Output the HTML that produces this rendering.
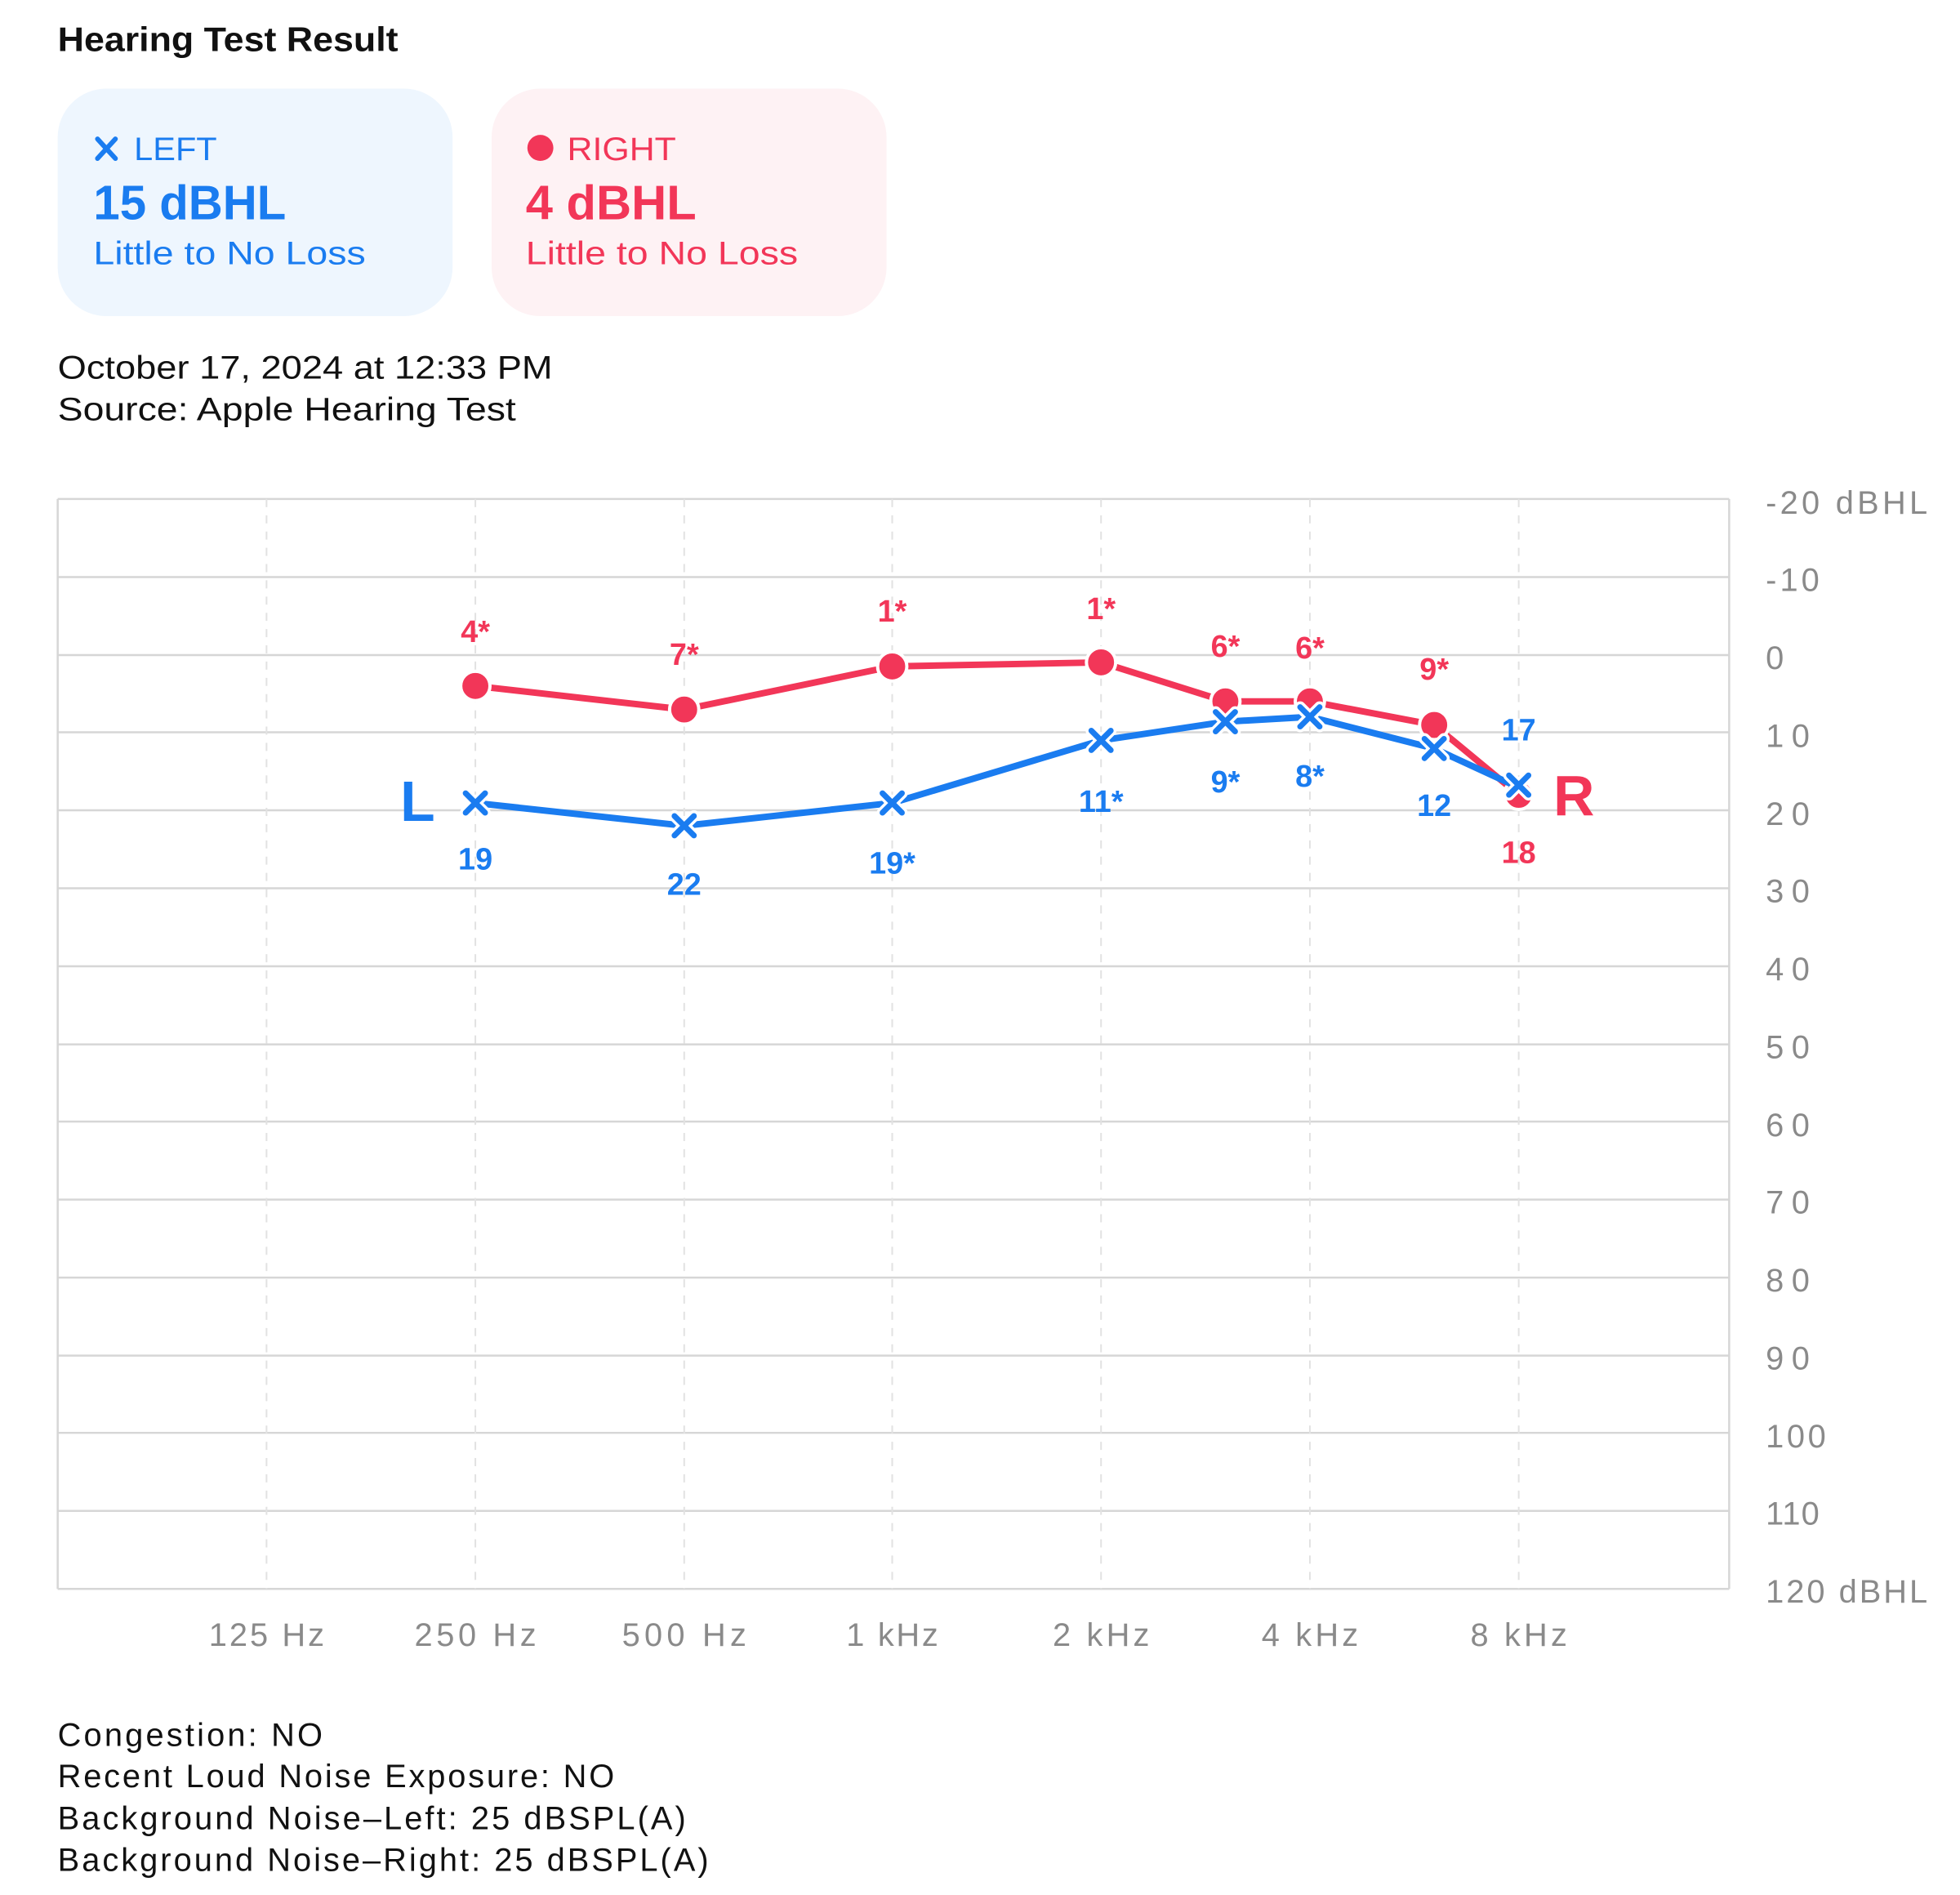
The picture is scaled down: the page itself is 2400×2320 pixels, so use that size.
<!DOCTYPE html>
<html><head><meta charset="utf-8"><style>
html,body{margin:0;padding:0;background:#fff;}
svg{display:block;font-family:"Liberation Sans",sans-serif;}
</style></head><body>
<svg width="2400" height="2320" viewBox="0 0 2400 2320" xmlns="http://www.w3.org/2000/svg">
<g transform="scale(0.995)">
<text x="71" y="63" font-size="42" font-weight="bold" fill="#111" textLength="419" lengthAdjust="spacingAndGlyphs">Hearing Test Result</text>
<rect x="71" y="109" width="486" height="280" rx="60" fill="#eef6fe"/>
<rect x="605" y="109" width="486" height="280" rx="60" fill="#fef2f4"/>
<g stroke="#1a7cf0" stroke-width="6" stroke-linecap="round"><line x1="120" y1="171" x2="142" y2="195"/><line x1="142" y1="171" x2="120" y2="195"/></g>
<text x="165" y="197" font-size="40" fill="#1a7cf0" textLength="102" lengthAdjust="spacingAndGlyphs">LEFT</text>
<text x="115" y="270" font-size="60" font-weight="bold" fill="#1a7cf0" textLength="237" lengthAdjust="spacingAndGlyphs">15 dBHL</text>
<text x="115" y="325" font-size="40" fill="#1a7cf0" textLength="335" lengthAdjust="spacingAndGlyphs">Little to No Loss</text>
<circle cx="665" cy="182" r="16" fill="#f23658"/>
<text x="698" y="197" font-size="40" fill="#f23658" textLength="134" lengthAdjust="spacingAndGlyphs">RIGHT</text>
<text x="647" y="270" font-size="60" font-weight="bold" fill="#f23658" textLength="210" lengthAdjust="spacingAndGlyphs">4 dBHL</text>
<text x="647" y="325" font-size="40" fill="#f23658" textLength="335" lengthAdjust="spacingAndGlyphs">Little to No Loss</text>
<text x="71" y="466" font-size="40" fill="#111" textLength="609" lengthAdjust="spacingAndGlyphs">October 17, 2024 at 12:33 PM</text>
<text x="71" y="517" font-size="40" fill="#111" textLength="564" lengthAdjust="spacingAndGlyphs">Source: Apple Hearing Test</text>

<g stroke="#d6d6d6" stroke-width="2.5">
<line x1="71" y1="614" x2="2128" y2="614"/><line x1="71" y1="710" x2="2128" y2="710"/><line x1="71" y1="806" x2="2128" y2="806"/><line x1="71" y1="901" x2="2128" y2="901"/><line x1="71" y1="997" x2="2128" y2="997"/><line x1="71" y1="1093" x2="2128" y2="1093"/><line x1="71" y1="1189" x2="2128" y2="1189"/><line x1="71" y1="1285" x2="2128" y2="1285"/><line x1="71" y1="1380" x2="2128" y2="1380"/><line x1="71" y1="1476" x2="2128" y2="1476"/><line x1="71" y1="1572" x2="2128" y2="1572"/><line x1="71" y1="1668" x2="2128" y2="1668"/><line x1="71" y1="1763" x2="2128" y2="1763"/><line x1="71" y1="1859" x2="2128" y2="1859"/><line x1="71" y1="1955" x2="2128" y2="1955"/>
<line x1="71" y1="614" x2="71" y2="1955"/><line x1="2128" y1="614" x2="2128" y2="1955"/>
</g>
<g stroke="#e2e2e2" stroke-width="2" stroke-dasharray="10 10">
<line x1="328" y1="614" x2="328" y2="1955"/><line x1="585" y1="614" x2="585" y2="1955"/><line x1="842" y1="614" x2="842" y2="1955"/><line x1="1098" y1="614" x2="1098" y2="1955"/><line x1="1355" y1="614" x2="1355" y2="1955"/><line x1="1612" y1="614" x2="1612" y2="1955"/><line x1="1869" y1="614" x2="1869" y2="1955"/>
</g>
<g font-size="40" fill="#8a8a8a" lengthAdjust="spacingAndGlyphs">
<text x="2173" y="632" textLength="199">-20 dBHL</text><text x="2173" y="727" textLength="66">-10</text><text x="2173" y="823">0</text><text x="2173" y="919" textLength="54">10</text><text x="2173" y="1015" textLength="54">20</text><text x="2173" y="1110" textLength="54">30</text><text x="2173" y="1206" textLength="54">40</text><text x="2173" y="1302" textLength="54">50</text><text x="2173" y="1398" textLength="54">60</text><text x="2173" y="1493" textLength="54">70</text><text x="2173" y="1589" textLength="54">80</text><text x="2173" y="1685" textLength="54">90</text><text x="2173" y="1781" textLength="74">100</text><text x="2173" y="1876" textLength="66">110</text><text x="2173" y="1972" textLength="199">120 dBHL</text>
</g>
<g font-size="40" fill="#8a8a8a" text-anchor="middle" lengthAdjust="spacingAndGlyphs">
<text x="328" y="2025" textLength="142">125 Hz</text><text x="585" y="2025" textLength="150">250 Hz</text><text x="842" y="2025" textLength="153">500 Hz</text><text x="1098" y="2025" textLength="113">1 kHz</text><text x="1355" y="2025" textLength="119">2 kHz</text><text x="1612" y="2025" textLength="119">4 kHz</text><text x="1869" y="2025" textLength="119">8 kHz</text>
</g>

<polyline points="585,844 842,873 1098,820 1355,815 1508,863 1612,863 1765,892 1869,978" fill="none" stroke="#f23658" stroke-width="8" stroke-linejoin="round"/>
<g fill="#f23658" stroke="#fff" stroke-width="4">
<circle cx="585" cy="844" r="18"/><circle cx="842" cy="873" r="18"/><circle cx="1098" cy="820" r="18"/><circle cx="1355" cy="815" r="18"/><circle cx="1508" cy="863" r="18"/><circle cx="1612" cy="863" r="18"/><circle cx="1765" cy="892" r="18"/><circle cx="1869" cy="978" r="18"/>
</g>
<polyline points="585,988 842,1016 1098,988 1355,911 1508,888 1612,882 1765,921 1869,969" fill="none" stroke="#1a7cf0" stroke-width="8" stroke-linejoin="round"/>
<defs>
<g id="x"><g stroke="#fff" stroke-width="14" stroke-linecap="round"><line x1="-12" y1="-12" x2="12" y2="12"/><line x1="12" y1="-12" x2="-12" y2="12"/></g><g stroke="#1a7cf0" stroke-width="7" stroke-linecap="round"><line x1="-12" y1="-12" x2="12" y2="12"/><line x1="12" y1="-12" x2="-12" y2="12"/></g></g>
</defs>
<use href="#x" x="585" y="988"/><use href="#x" x="842" y="1016"/><use href="#x" x="1098" y="988"/><use href="#x" x="1355" y="911"/><use href="#x" x="1508" y="888"/><use href="#x" x="1612" y="882"/><use href="#x" x="1765" y="921"/><use href="#x" x="1869" y="966"/>

<g font-size="38" font-weight="bold" fill="#f23658" text-anchor="middle">
<text x="585" y="790">4*</text><text x="842" y="818">7*</text><text x="1098" y="765">1*</text><text x="1355" y="762">1*</text><text x="1508" y="808">6*</text><text x="1612" y="810">6*</text><text x="1765" y="836">9*</text><text x="1869" y="1062">18</text>
</g>
<g font-size="38" font-weight="bold" fill="#1a7cf0" text-anchor="middle">
<text x="585" y="1070">19</text><text x="842" y="1101">22</text><text x="1098" y="1075">19*</text><text x="1355" y="999">11*</text><text x="1508" y="975">9*</text><text x="1612" y="968">8*</text><text x="1765" y="1004">12</text><text x="1869" y="911">17</text>
</g>
<text x="514" y="1010" font-size="70" font-weight="bold" fill="#1a7cf0" text-anchor="middle">L</text>
<text x="1937" y="1003" font-size="70" font-weight="bold" fill="#f23658" text-anchor="middle">R</text>

<g font-size="40" fill="#111" lengthAdjust="spacingAndGlyphs">
<text x="71" y="2148" textLength="326">Congestion: NO</text>
<text x="71" y="2199" textLength="685">Recent Loud Noise Exposure: NO</text>
<text x="71" y="2251" textLength="773">Background Noise–Left: 25 dBSPL(A)</text>
<text x="71" y="2302" textLength="801">Background Noise–Right: 25 dBSPL(A)</text>
</g>
</g>
</svg>
</body></html>
